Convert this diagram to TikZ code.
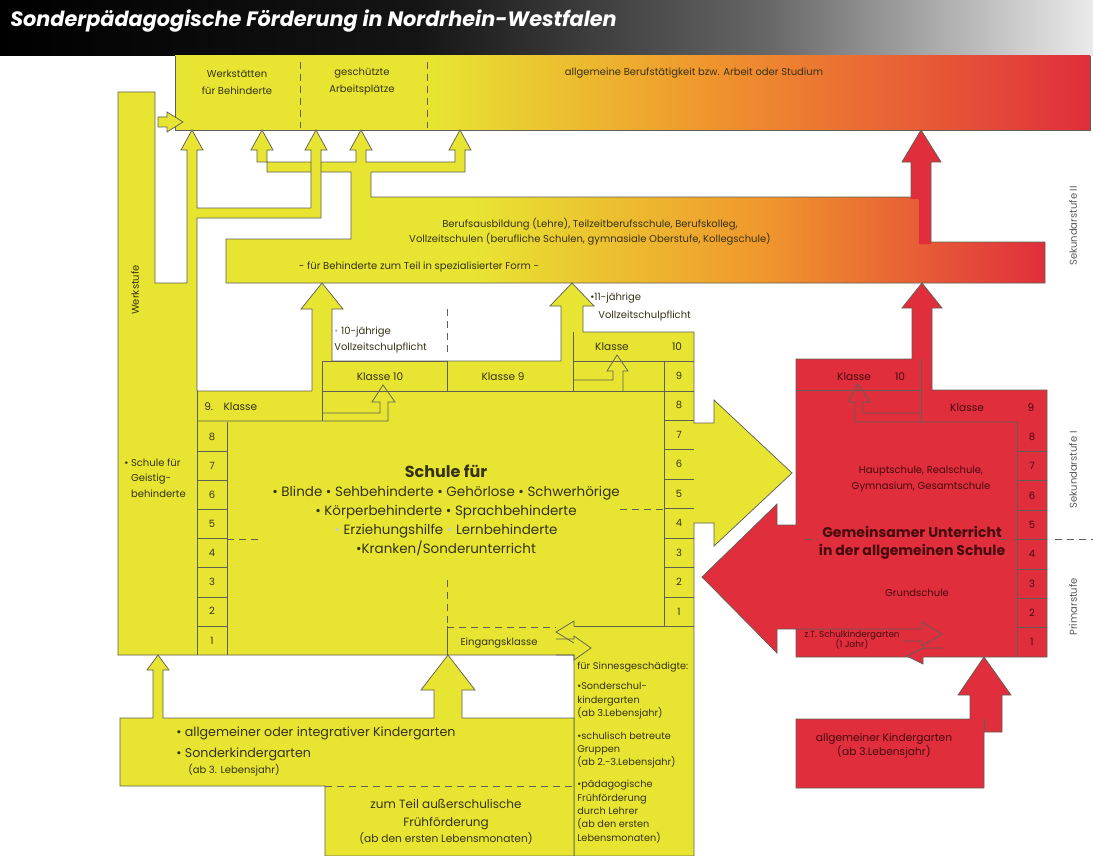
\documentclass[tikz,border=0pt]{standalone}
\usepackage{fontspec}
\setmainfont{Poppins}
\definecolor{yel}{RGB}{232,229,50}
\definecolor{rd}{RGB}{224,46,60}
\definecolor{orng}{RGB}{240,150,45}
\definecolor{edge}{RGB}{95,95,85}
\definecolor{ink}{RGB}{55,50,20}
\definecolor{redink}{RGB}{70,10,15}
\pgfdeclarehorizontalshading{headshade}{100bp}{color(0bp)=(black); color(25bp)=(black); color(44bp)=(black!92); color(60bp)=(black!60); color(75bp)=(black!8); color(100bp)=(black!8)}
\pgfdeclarehorizontalshading{bandshade}{100bp}{color(0bp)=(yel); color(25bp)=(yel); color(39bp)=(yel); color(54bp)=(orng); color(75bp)=(rd); color(100bp)=(rd)}
\pgfdeclarehorizontalshading{ausbshade}{100bp}{color(0bp)=(yel); color(25bp)=(yel); color(40bp)=(yel); color(58bp)=(orng); color(75bp)=(rd); color(100bp)=(rd)}
\newcommand\fstitle{\fontsize{15.6}{18}\bfseries\itshape\selectfont}
\newcommand\fsa{\fontsize{7.5}{11.3}\selectfont}
\newcommand\fsb{\fontsize{9.5}{14}\selectfont}
\newcommand\fsc{\fontsize{7.3}{10}\selectfont}

\begin{document}
\begin{tikzpicture}[x=0.75pt,y=-0.75pt,every node/.style={inner sep=0pt},
  lbl/.style={text=ink,font=\fsa,align=center},
  rlbl/.style={text=redink,font=\fsa,align=center},
  outl/.style={draw=edge,line width=0.55pt},
  dsh/.style={draw=edge,line width=0.55pt,dash pattern=on 5pt off 4pt}]
  \useasboundingbox (0,0) rectangle (1093,856);

  %% Kopf
  \shade[shading=headshade] (0,0) rectangle (1093,56);
  \node[anchor=west,text=white,font=\fstitle] (titel) at (10,21) {Sonderpädagogische Förderung in Nordrhein-Westfalen};

  %% Band: Beruf
  \shade[shading=bandshade] (175,56) rectangle (1090,130);
  \draw[outl] (175,56) -- (175,130) -- (1090,130) -- (1090,56);
  \draw[dsh] (300,62) -- (300,128);
  \draw[dsh] (427,62) -- (427,128);
  \node[lbl,font=\fontsize{7.5}{12.7}\selectfont] (wfb) at (237,82) {Werkstätten\\für Behinderte};
  \node[lbl,font=\fontsize{7.5}{12.7}\selectfont] (gap) at (362,82) {geschützte\\Arbeitsplätze};
  \node[lbl] (allg) at (694,73) {allgemeine Berufstätigkeit bzw. Arbeit oder Studium};

  %% Berufsausbildung mit Verteiler
  \shadedraw[shading=ausbshade,outl] (226,283) -- (226,239) -- (351,239) -- (351,172)
    -- (267,172) -- (267,150) -- (273,150) -- (262,130) -- (251,150) -- (257,150) -- (257,162)
    -- (356,162) -- (356,150) -- (350,150) -- (361,130) -- (372,150) -- (366,150) -- (366,162)
    -- (455,162) -- (455,150) -- (449,150) -- (460,130) -- (471,150) -- (465,150) -- (465,172)
    -- (371,172) -- (371,197) -- (921,197) -- (921,242) -- (1045,242) -- (1045,283) -- cycle;
  \fill[rd] (911,199) -- (911,162) -- (902,162) -- (921,130) -- (941,162) -- (931,162)
    -- (931,244) -- (919,244) -- (919,199) -- cycle;
  \draw[outl] (911,197) -- (911,162) -- (902,162) -- (921,130) -- (941,162) -- (931,162) -- (931,242);
  \node[lbl] (ausb) at (590,232) {Berufsausbildung (Lehre), Teilzeitberufsschule, Berufskolleg,\\Vollzeitschulen (berufliche Schulen, gymnasiale Oberstufe, Kollegschule)};
  \node[lbl] (spez) at (419,267) {- für Behinderte zum Teil in spezialisierter Form -};

  %% Sonderschule (gelb)
  \filldraw[fill=yel,outl] (118,92) -- (155,92) -- (155,283) -- (187,283) -- (187,150)
    -- (181,150) -- (192,130) -- (203,150) -- (197,150) -- (197,208) -- (311,208) -- (311,150)
    -- (305,150) -- (316,130) -- (327,150) -- (321,150) -- (321,218) -- (197,218) -- (197,391)
    -- (312,391) -- (312,309) -- (301,309) -- (322,283) -- (343,309) -- (332,309) -- (332,361)
    -- (561,361) -- (561,306) -- (550,306) -- (572,283) -- (594,306) -- (583,306) -- (583,332)
    -- (694,332) -- (694,423) -- (714,423) -- (714,400) -- (792,473) -- (714,546) -- (714,523)
    -- (694,523) -- (694,856) -- (574,856) -- (574,655) -- (118,655) -- cycle;
  \filldraw[fill=yel,outl] (158,117) -- (167,117) -- (167,112) -- (183,122) -- (167,132)
    -- (167,127) -- (158,127) -- cycle;
  \node[lbl,rotate=90] (werk) at (135,290) {Werkstufe};

  %% Kindergarten (gelb)
  \filldraw[fill=yel,outl] (120,718) -- (153,718) -- (153,670) -- (147,670) -- (158,655)
    -- (169,670) -- (163,670) -- (163,718) -- (434,718) -- (434,690) -- (421,690) -- (448,655)
    -- (475,690) -- (462,690) -- (462,718) -- (574,718) -- (574,856) -- (325,856) -- (325,786)
    -- (120,786) -- cycle;
  \draw[dsh] (325,786) -- (574,786);

  %% allgemeine Schule (rot)
  \filldraw[fill=rd,outl] (796,359) -- (912,359) -- (912,308) -- (902,308) -- (922,283)
    -- (942,308) -- (932,308) -- (932,390) -- (1047,390) -- (1047,657) -- (796,657) -- (796,629)
    -- (777,629) -- (777,653) -- (702,577) -- (777,504) -- (777,525) -- (796,525) -- cycle;
  \filldraw[fill=rd,outl] (796,719) -- (970,719) -- (970,695) -- (958,695) -- (984,657)
    -- (1011,695) -- (1002,695) -- (1002,732) -- (984,732) -- (984,788) -- (796,788) -- cycle;
  \draw[outl] (984,719) -- (984,732);

  %% Klassen gelb
  \draw[outl] (197,391) -- (197,655);
  \draw[outl] (227,422) -- (227,655);
  \foreach \y in {451,480,509,538,567,597,626} \draw[outl] (197,\y) -- (227,\y);
  \draw[outl] (197,421) -- (388,421) -- (388,402) -- (395,402) -- (383,385) -- (372,402)
    -- (380,402) -- (380,413) -- (322,413);
  \draw[outl] (322,361) -- (322,421);
  \draw[outl] (322,361) -- (447,361) -- (447,391);
  \draw[outl] (322,391) -- (694,391);
  \draw[outl] (573,332) -- (573,391);
  \draw[outl] (573,361) -- (694,361);
  \draw[outl] (573,380) -- (613,380) -- (613,371) -- (607,371) -- (617,355) -- (628,371)
    -- (623,371) -- (623,391);
  \draw[outl] (664,361) -- (664,626);
  \foreach \y in {420,449.5,479,508.5,538,567.5,597} \draw[outl] (664,\y) -- (694,\y);
  \draw[outl] (574,626) -- (694,626);
  \draw[dsh] (227,539) -- (262,539);
  \draw[dsh] (620,509) -- (664,509);
  \draw[dsh] (447,309) -- (447,356);
  \draw[dsh] (447,580) -- (447,626);
  \draw[outl] (447,626) -- (447,655);
  \draw[dsh] (447,627) -- (556,627);
  \draw[outl] (574,626) -- (574,621) -- (556,632) -- (574,643);
  \draw[outl] (556,639) -- (574,639) -- (574,636) -- (591,648) -- (574,660) -- (574,655) -- (556,655);

  \node[lbl,font=\fontsize{7.9}{11}\selectfont] (k10a) at (380,377) {Klasse 10};
  \node[lbl,font=\fontsize{7.9}{11}\selectfont] (k9a) at (503,377) {Klasse 9};
  \node[lbl,font=\fontsize{7.9}{11}\selectfont] (k10b) at (612,347) {Klasse};
  \node[lbl,font=\fontsize{7.9}{11}\selectfont] (n10b) at (677,347) {10};
  \node[lbl,font=\fontsize{7.9}{11}\selectfont,anchor=west] (k9l) at (204,407) {9.\quad Klasse};
  \foreach \n [count=\i] in {8,7,...,1}
    \node[lbl] (yl\n) at (212,{422+(\i-0.5)*29.125}) {\n};
  \foreach \n [count=\i] in {9,8,...,1}
    \node[lbl] (yr\n) at (679,{361+(\i-0.5)*29.5}) {\n};
  \node[lbl,anchor=north west,align=left] (geist) at (124,459)
    {\textbullet\ Schule für\\\phantom{\textbullet\ }Geistig-\\\phantom{\textbullet\ }behinderte};
  \node[lbl,font=\fontsize{12}{14}\bfseries\selectfont] (sfuer) at (446,471) {Schule für};
  \node[lbl,font=\fontsize{10.1}{14.3}\selectfont] (arten) at (446,521)
    {\textbullet\ Blinde \textbullet\ Sehbehinderte \textbullet\ Gehörlose \textbullet\ Schwerhörige\\
     \textbullet\ Körperbehinderte \textbullet\ Sprachbehinderte\\
     {\color{gray!40}\textbullet}\ Erziehungshilfe {\color{gray!40}\textbullet}\ Lernbehinderte\\
     \textbullet Kranken/Sonderunterricht};
  \node[lbl] (eing) at (499,643) {Eingangsklasse};
  \node[lbl,anchor=west,align=left] (vz10) at (334,340)
    {{\color{gray!60}\textbullet}\ 10-jährige\\Vollzeitschulpflicht};
  \node[lbl,anchor=west] (vz11a) at (590,298) {\textbullet 11-jährige};
  \node[lbl,anchor=west] (vz11b) at (598,316) {Vollzeitschulpflicht};

  %% Kindergarten Texte
  \node[lbl,font=\fsb,anchor=west] (kg1) at (176,733) {\textbullet\ allgemeiner oder integrativer Kindergarten};
  \node[lbl,font=\fsb,anchor=west] (kg2) at (176,754) {\textbullet\ Sonderkindergarten};
  \node[lbl,anchor=west] (kg3) at (188,770) {(ab 3. Lebensjahr)};
  \node[lbl,font=\fontsize{9}{13.5}\selectfont] (fruh) at (446,814) {zum Teil außerschulische\\Frühförderung};
  \node[lbl,font=\fontsize{8}{10}\selectfont] (fruhb) at (446,839) {(ab den ersten Lebensmonaten)};
  \node[lbl,font=\fsc,anchor=north west,align=left] (sinn) at (577,662)
    {für Sinnesgeschädigte:\\[5pt]
     \textbullet Sonderschul-\\kindergarten\\(ab 3.Lebensjahr)\\[7pt]
     \textbullet schulisch betreute\\Gruppen\\(ab 2.-3.Lebensjahr)\\[6.5pt]
     \textbullet pädagogische\\Frühförderung\\durch Lehrer\\(ab den ersten\\Lebensmonaten)};

  %% Klassen rot
  \draw[outl] (796,390) -- (921,390);
  \draw[outl] (921,359) -- (921,422);
  \draw[outl] (921,413) -- (863,413) -- (863,402) -- (870,402) -- (858,384) -- (848,402)
    -- (855,402) -- (855,422) -- (1017,422);
  \draw[outl] (1017,422) -- (1017,657);
  \foreach \y in {451.4,480.8,510.1,539.5,568.9,598.3,627.6} \draw[outl] (1017,\y) -- (1047,\y);
  \draw[outl] (796,629) -- (922,629) -- (922,622) -- (942,634) -- (922,646) -- (922,641) -- (903,641);
  \fill[rd] (907,656) -- (923,664) -- (923,655) -- cycle;
  \draw[outl] (943,648) -- (923,648) -- (907,656) -- (923,664) -- (923,657);
  \draw[dsh] (805,539) -- (818,539);
  \draw[dsh] (1000,539) -- (1015,539);

  \node[rlbl,font=\fontsize{7.9}{11}\selectfont] (k10r) at (854,377) {Klasse};
  \node[rlbl,font=\fontsize{7.9}{11}\selectfont] (n10r) at (900,377) {10};
  \node[rlbl,font=\fontsize{7.9}{11}\selectfont] (k9r) at (967,408) {Klasse};
  \node[rlbl,font=\fontsize{7.9}{11}\selectfont] (n9r) at (1031,408) {9};
  \foreach \n [count=\i] in {8,7,...,1}
    \node[rlbl] (rr\n) at (1032,{422+(\i-0.5)*29.375}) {\n};
  \node[rlbl,font=\fontsize{7.5}{12.5}\selectfont] (haupt) at (921,479) {Hauptschule, Realschule,\\Gymnasium, Gesamtschule};
  \node[rlbl,font=\fontsize{10.5}{13.5}\bfseries\selectfont] (gem) at (912,543) {Gemeinsamer Unterricht\\in der allgemeinen Schule};
  \node[rlbl] (grund) at (917,593) {Grundschule};
  \node[rlbl,font=\fontsize{6.6}{8}\selectfont] (skg) at (852,640) {z.T. Schulkindergarten\\(1 Jahr)};
  \node[rlbl,font=\fontsize{8}{9.5}\selectfont] (akg) at (884,746) {allgemeiner Kindergarten\\(ab 3.Lebensjahr)};

  %% Stufen
  \node[lbl,rotate=90,text=black!65] (sek2) at (1073,226) {Sekundarstufe II};
  \node[lbl,rotate=90,text=black!65] (sek1) at (1073,470) {Sekundarstufe I};
  \node[lbl,rotate=90,text=black!65] (prim) at (1073,607) {Primarstufe};
  \draw[dsh] (1055,539) -- (1093,539);
\end{tikzpicture}
\end{document}
